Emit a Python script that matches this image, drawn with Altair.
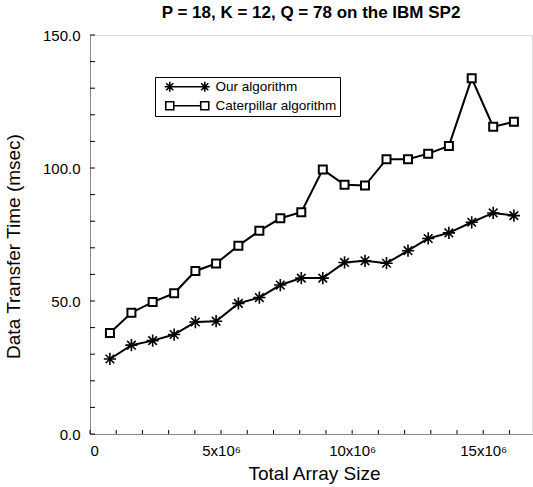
import altair as alt
import pandas as pd

# ---- data ----
array_size_millions = [0.76, 1.58, 2.39, 3.21, 4.02, 4.81, 5.66, 6.46, 7.26, 8.06,
                       8.88, 9.71, 10.49, 11.31, 12.13, 12.90, 13.69, 14.56, 15.38, 16.17]
our_algorithm = [28.2, 33.4, 35.1, 37.4, 42.1, 42.4, 49.1, 51.3, 56.0, 58.6,
                 58.6, 64.5, 65.1, 64.2, 68.9, 73.5, 75.6, 79.6, 83.1, 82.1]
caterpillar_algorithm = [38.0, 45.6, 49.6, 52.9, 61.3, 64.1, 70.8, 76.4, 81.1, 83.4,
                         99.4, 93.7, 93.4, 103.3, 103.3, 105.4, 108.3, 133.7, 115.5, 117.4]
series_names = ["Our algorithm", "Caterpillar algorithm"]
title_text = "P = 18, K = 12, Q = 78 on the IBM SP2"
x_title = "Total Array Size"
y_title = "Data Transfer Time (msec)"
x_label_values = [0, 5e6, 10e6, 15e6]
y_label_values = [0, 50, 100, 150]
x_minor_ticks = [i * 1e6 for i in range(0, 17)]
y_minor_ticks = list(range(0, 151, 10))

rows = []
for s, c, o in zip(array_size_millions, caterpillar_algorithm, our_algorithm):
    rows.append({"size": s * 1e6, "time": o, "series": series_names[0]})
    rows.append({"size": s * 1e6, "time": c, "series": series_names[1]})
df = pd.DataFrame(rows)

FONT = "Liberation Sans"
W, H = 442, 399

xscale = alt.Scale(domain=[0, 16.86e6], nice=False, zero=False)
yscale = alt.Scale(domain=[0, 150], nice=False)

xaxis = alt.Axis(values=x_label_values, ticks=False, grid=False,
                 labelExpr="datum.value == 0 ? '0' : format(datum.value / 1000000, 'd') + 'x10\u2076'",
                 labelPadding=9, labelFontSize=15, title=x_title,
                 titleFontSize=19, titleFontWeight="normal", titleX=224, titleY=45,
                 titleBaseline="alphabetic")
yaxis = alt.Axis(values=y_label_values, format=".1f", ticks=False, grid=False,
                 labelPadding=10, labelFontSize=15, title=y_title,
                 titleFontSize=19, titleFontWeight="normal", titleAngle=-90, titleX=-86,
                 titleY=211, titleBaseline="top", titleAlign="center")

base = alt.Chart(df)

lines = base.mark_line(color="black", strokeWidth=2).encode(
    x=alt.X("size:Q", scale=xscale, axis=xaxis),
    y=alt.Y("time:Q", scale=yscale, axis=yaxis),
    detail="series:N",
)

star_path = "M-1,0L1,0M0,-1L0,1M-0.7,-0.7L0.7,0.7M-0.7,0.7L0.7,-0.7"

our_pts = base.transform_filter(alt.datum.series == series_names[0]).mark_point(
    shape=star_path, size=150, filled=False, color="black", strokeWidth=1.6, opacity=1
).encode(x="size:Q", y="time:Q")

cat_pts = base.transform_filter(alt.datum.series == series_names[1]).mark_point(
    shape="square", size=64, filled=True, fill="white", stroke="black", strokeWidth=2, opacity=1
).encode(x="size:Q", y="time:Q")


def star(cx, r):
    d = round(r * 0.7071, 3)
    return (f"M{cx - r},0L{cx + r},0M{cx},{-r}L{cx},{r}"
            f"M{cx - d},{-d}L{cx + d},{d}M{cx - d},{d}L{cx + d},{-d}")


def sq(cx, h):
    return f"M{cx - h},{-h}H{cx + h}V{h}H{cx - h}Z"


legend_star = star(2.5, 2.5) + "M2.5,0L20,0" + star(20, 2.5)
legend_square = sq(2.5, 2.0) + "M4.5,0L18,0" + sq(20, 2.0)

legend_layer = base.transform_filter("false").mark_point(
    filled=False, color="black", opacity=1
).encode(
    shape=alt.Shape(
        "series:N",
        scale=alt.Scale(domain=series_names, range=[legend_star, legend_square]),
        legend=alt.Legend(
            title=None, orient="none", legendX=65, legendY=42,
            symbolSize=16, symbolStrokeWidth=1.6, symbolStrokeColor="black",
            labelFont=FONT, labelFontSize=13.5, labelColor="black", labelOffset=44,
            padding=3, rowPadding=3, strokeColor="black", fillColor="white",
        ),
    )
)

ytick_df = pd.DataFrame({"v": y_minor_ticks})
xtick_df = pd.DataFrame({"v": x_minor_ticks})
ytick_rules = alt.Chart(ytick_df).mark_rule(color="black", strokeWidth=1).encode(
    y=alt.Y("v:Q", scale=yscale), x=alt.value(0), x2=alt.value(5)
)
xtick_rules = alt.Chart(xtick_df).mark_rule(color="black", strokeWidth=1).encode(
    x=alt.X("v:Q", scale=xscale), y=alt.value(H), y2=alt.value(H - 4)
)

chart = alt.layer(lines, ytick_rules, xtick_rules, our_pts, cat_pts, legend_layer).properties(
    width=W, height=H,
    title=alt.TitleParams(title_text, font=FONT, fontSize=17, fontWeight="bold",
                          anchor="middle", offset=6, color="black"),
    autosize=alt.AutoSizeParams(type="none"),
    padding={"left": 90, "top": 35, "right": 1, "bottom": 53},
).configure_view(stroke="black", strokeWidth=1.5).configure_axis(
    domainColor="black", domainWidth=1.5, labelFont=FONT, titleFont=FONT,
    labelColor="black", titleColor="black", titleFontWeight="normal",
).configure(background="white")

chart.save("out.html", embed_options={"renderer": "svg", "actions": False})
